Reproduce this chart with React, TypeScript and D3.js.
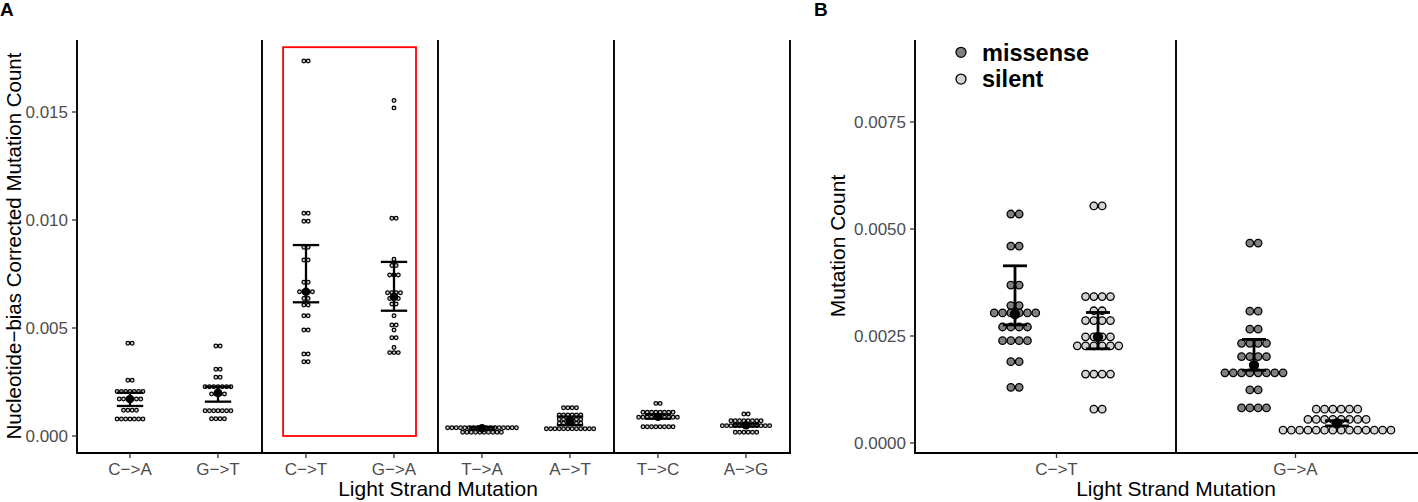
import React from "react";
import * as d3 from "d3";

// ---------- data ----------
const catsA = ["C−>A", "G−>T", "C−>T", "G−>A", "T−>A", "A−>T", "T−>C", "A−>G"];
// dotplot bins: [value, number of dots in that row]
const binsCA: [number, number][] = [[0.00429, 2], [0.00258, 2], [0.00206, 7], [0.00171, 6], [0.00119, 4], [0.00079, 7]];
const binsGT: [number, number][] = [[0.00417, 2], [0.00309, 2], [0.00272, 2], [0.00228, 7], [0.00194, 4], [0.00117, 7], [0.0008, 4]];
const binsCT: [number, number][] = [[0.01736, 2], [0.01031, 2], [0.00994, 2], [0.00874, 2], [0.00815, 2], [0.00712, 2], [0.00668, 4], [0.00637, 2], [0.00606, 2], [0.00557, 2], [0.00491, 2], [0.0038, 2], [0.00344, 2]];
const binsGA: [number, number][] = [[0.01553, 1], [0.01519, 1], [0.01008, 2], [0.00818, 1], [0.00789, 2], [0.00745, 3], [0.00663, 4], [0.00637, 3], [0.00611, 2], [0.00557, 1], [0.00514, 2], [0.00491, 1], [0.00455, 2], [0.0041, 1], [0.00386, 3]];
const binsTA: [number, number][] = [[0.00038, 17], [0.00017, 10]];
const binsAT: [number, number][] = [[0.00131, 4], [0.00097, 6], [0.00077, 6], [0.00059, 6], [0.00034, 12]];
const binsTC: [number, number][] = [[0.00151, 2], [0.0011, 8], [0.00087, 10], [0.00043, 8]];
const binsAG: [number, number][] = [[0.00102, 2], [0.00071, 8], [0.00048, 12], [0.00017, 6]];
const meanA = [0.00171, 0.002, 0.00668, 0.00645, 0.00036, 0.00068, 0.00089, 0.0005];
const lowA = [0.00139, 0.00159, 0.00619, 0.0058, 0.0003, 0.0005, 0.0008, 0.00044];
const highA = [0.002, 0.00228, 0.00884, 0.00806, 0.00042, 0.0009, 0.001, 0.00058];
const ticksA = [0, 0.005, 0.01, 0.015];

const catsB = ["C−>T", "G−>A"];
const typesB = ["missense", "silent"];
const binsBctMis: [number, number][] = [[0.00535, 2], [0.0046, 2], [0.00369, 2], [0.00321, 2], [0.00304, 6], [0.00271, 4], [0.00239, 4], [0.0019, 2], [0.0013, 2]];
const binsBctSil: [number, number][] = [[0.00554, 2], [0.00342, 4], [0.00309, 2], [0.00286, 4], [0.00248, 4], [0.00227, 6], [0.00161, 4], [0.00079, 2]];
const binsBgaMis: [number, number][] = [[0.00467, 2], [0.00308, 2], [0.00266, 2], [0.00233, 4], [0.00202, 4], [0.00164, 8], [0.00124, 2], [0.00082, 4]];
const binsBgaSil: [number, number][] = [[0.00079, 6], [0.00055, 8], [0.0003, 14]];
const meanB = [0.00301, 0.00248, 0.00182, 0.00046];
const lowB = [0.00276, 0.0022, 0.0017, 0.0004];
const highB = [0.00414, 0.00305, 0.00242, 0.00052];
const ticksB = [0, 0.0025, 0.005, 0.0075];

const FONT = "'Liberation Sans', Arial, Helvetica, sans-serif";

export default function App() {
  // ---------- panel A scales ----------
  const yA = d3.scaleLinear().domain([0, 0.015]).range([436, 112]);
  const xA = d3.scalePoint<string>().domain(catsA).range([86, 790]).padding(0.5);
  const stepA = xA.step();
  const binsA = [binsCA, binsGT, binsCT, binsGA, binsTA, binsAT, binsTC, binsAG];
  const dA = 4.3;
  const sepA = [1, 2, 3, 4].map((k) => 86 + k * 2 * stepA);

  // ---------- panel B scales ----------
  const yB = d3.scaleLinear().domain([0, 0.0075]).range([443, 122]);
  const xB = d3.scalePoint<string>().domain(catsB).range([937, 1415]).padding(0.5);
  const dodge = d3.scalePoint<string>().domain(typesB).range([-41.5, 41.5]);
  const fillB = d3.scaleOrdinal<string, string>().domain(typesB).range(["#808080", "#d3d3d3"]);
  const groupsB = [
    { cat: catsB[0], type: typesB[0], bins: binsBctMis },
    { cat: catsB[0], type: typesB[1], bins: binsBctSil },
    { cat: catsB[1], type: typesB[0], bins: binsBgaMis },
    { cat: catsB[1], type: typesB[1], bins: binsBgaSil },
  ];
  const dB = 8.3;

  const dots = (bins: [number, number][], cx: number, y: d3.ScaleLinear<number, number>, d: number) =>
    bins.flatMap(([v, n]) => d3.range(n).map((i) => ({ x: cx + (i - (n - 1) / 2) * d, y: y(v) })));

  return (
    <svg width={1418} height={502} style={{ position: "absolute", left: 0, top: 0, background: "#fff" }} fontFamily={FONT}>
      {/* ================= Panel A ================= */}
      <text x={0} y={15.5} fontSize={19} fontWeight="bold">A</text>
      {/* y axis */}
      <line x1={77} x2={77} y1={40} y2={454} stroke="#000" strokeWidth={1.9} />
      {ticksA.map((t) => (
        <g key={t}>
          <line x1={72} x2={77} y1={yA(t)} y2={yA(t)} stroke="#333" strokeWidth={1.3} />
          <text x={68} y={yA(t)} dy="0.35em" textAnchor="end" fontSize={17} fill="#4d4d4d">{d3.format(".3f")(t)}</text>
        </g>
      ))}
      {/* facet separators */}
      {sepA.map((x) => (
        <line key={x} x1={x} x2={x} y1={40} y2={453} stroke="#000" strokeWidth={1.9} />
      ))}
      {/* x axis */}
      <line x1={76} x2={791} y1={453} y2={453} stroke="#000" strokeWidth={1.9} />
      {catsA.map((c) => (
        <g key={c}>
          <line x1={xA(c)} x2={xA(c)} y1={453} y2={458} stroke="#333" strokeWidth={1.3} />
          <text x={xA(c)} y={475} textAnchor="middle" fontSize={17} fill="#4d4d4d">{c}</text>
        </g>
      ))}
      <text x={438} y={496} textAnchor="middle" fontSize={21}>Light Strand Mutation</text>
      <text transform={`translate(21,246) rotate(-90)`} textAnchor="middle" fontSize={20.5}>
        Nucleotide−bias Corrected Mutation Count
      </text>
      {/* highlight box */}
      <rect
        x={xA(catsA[2])! - stepA * 0.26}
        y={yA(0.018)}
        width={stepA * 1.51}
        height={yA(0) - yA(0.018)}
        fill="none"
        stroke="#ff0000"
        strokeWidth={1.8}
      />
      {/* dots */}
      {binsA.map((bins, gi) =>
        dots(bins, xA(catsA[gi])!, yA, dA).map((p, i) => (
          <circle key={`${gi}-${i}`} cx={p.x} cy={p.y} r={1.85} fill="#cfcfcf" stroke="#000" strokeWidth={1.25} />
        ))
      )}
      {/* error bars + means */}
      {catsA.map((c, i) => {
        const x = xA(c)!;
        const w = stepA * 0.15;
        return (
          <g key={c} stroke="#000" strokeWidth={2.3}>
            <line x1={x} x2={x} y1={yA(lowA[i])} y2={yA(highA[i])} />
            <line x1={x - w} x2={x + w} y1={yA(lowA[i])} y2={yA(lowA[i])} />
            <line x1={x - w} x2={x + w} y1={yA(highA[i])} y2={yA(highA[i])} />
            <circle cx={x} cy={yA(meanA[i])} r={4.3} fill="#000" strokeWidth={0} />
          </g>
        );
      })}

      {/* ================= Panel B ================= */}
      <text x={814} y={15.5} fontSize={19} fontWeight="bold">B</text>
      <line x1={915} x2={915} y1={40} y2={454} stroke="#000" strokeWidth={1.9} />
      {ticksB.map((t) => (
        <g key={t}>
          <line x1={910} x2={915} y1={yB(t)} y2={yB(t)} stroke="#333" strokeWidth={1.3} />
          <text x={906} y={yB(t)} dy="0.35em" textAnchor="end" fontSize={17} fill="#4d4d4d">{d3.format(".4f")(t)}</text>
        </g>
      ))}
      <line x1={xB(catsB[0])! + xB.step() / 2} x2={xB(catsB[0])! + xB.step() / 2} y1={40} y2={453} stroke="#000" strokeWidth={1.9} />
      <line x1={914} x2={1418} y1={453} y2={453} stroke="#000" strokeWidth={1.9} />
      {catsB.map((c) => (
        <g key={c}>
          <line x1={xB(c)} x2={xB(c)} y1={453} y2={458} stroke="#333" strokeWidth={1.3} />
          <text x={xB(c)} y={475} textAnchor="middle" fontSize={17} fill="#4d4d4d">{c}</text>
        </g>
      ))}
      <text x={1176} y={496} textAnchor="middle" fontSize={21}>Light Strand Mutation</text>
      <text transform={`translate(845,246) rotate(-90)`} textAnchor="middle" fontSize={21}>Mutation Count</text>
      {/* dots */}
      {groupsB.map((g, gi) =>
        dots(g.bins, xB(g.cat)! + dodge(g.type)!, yB, dB).map((p, i) => (
          <circle key={`b${gi}-${i}`} cx={p.x} cy={p.y} r={3.75} fill={fillB(g.type)} stroke="#000" strokeWidth={1.3} />
        ))
      )}
      {groupsB.map((g, i) => {
        const x = xB(g.cat)! + dodge(g.type)!;
        const w = 12;
        return (
          <g key={`eb${i}`} stroke="#000" strokeWidth={2.8}>
            <line x1={x} x2={x} y1={yB(lowB[i])} y2={yB(highB[i])} />
            <line x1={x - w} x2={x + w} y1={yB(lowB[i])} y2={yB(lowB[i])} />
            <line x1={x - w} x2={x + w} y1={yB(highB[i])} y2={yB(highB[i])} />
            <circle cx={x} cy={yB(meanB[i])} r={5.2} fill="#000" strokeWidth={0} />
          </g>
        );
      })}
      {/* legend */}
      {typesB.map((t, i) => (
        <g key={t}>
          <circle cx={961} cy={52.3 + i * 26.8} r={5} fill={fillB(t)} stroke="#000" strokeWidth={1.3} />
          <text x={982} y={61 + i * 26} fontSize={23.5} fontWeight="bold">{t}</text>
        </g>
      ))}
    </svg>
  );
}
